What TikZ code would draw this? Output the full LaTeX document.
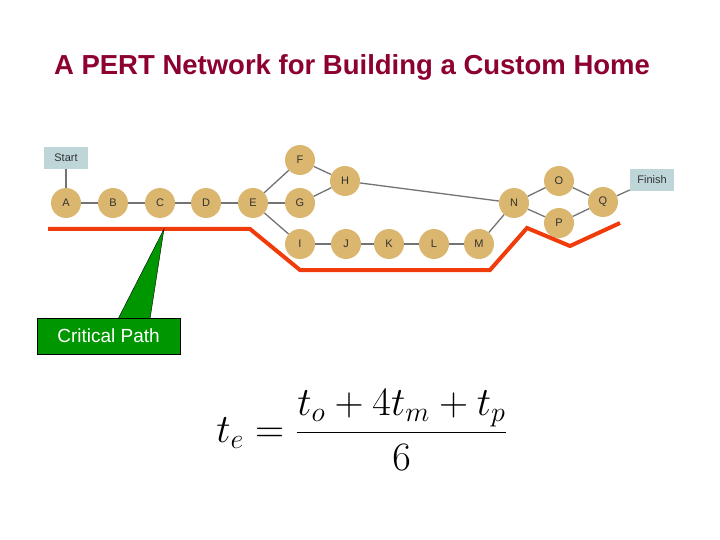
\documentclass[tikz,border=0pt]{standalone}
\usepackage{fontspec}
\setmainfont{Liberation Sans}
\begin{document}
\begin{tikzpicture}[x=1pt,y=-1pt,
 act/.style={circle,fill={rgb,255:red,218;green,182;blue,110},minimum size=30pt,inner sep=0pt,font=\fontsize{11}{12}\selectfont,text=black!80},
 term/.style={fill={rgb,255:red,190;green,214;blue,216},minimum width=44pt,minimum height=22pt,inner sep=1pt,font=\fontsize{11}{12}\selectfont,text=black!80},
 ln/.style={draw=black!55,line width=1.3pt}]
\useasboundingbox (0,0) rectangle (720,540);
\node[font=\bfseries\fontsize{27.5}{30}\selectfont,text={rgb,255:red,140;green,0;blue,50}] (title) at (352,67) {A PERT Network for Building a Custom Home};
\foreach \n/\x/\y in {A/66/203,B/113/203,C/160/203,D/206/203,E/253/203,F/300/160,G/300/203,H/345/181,I/300/244,J/346/244,K/389/244,L/434/244,M/479/244,N/514/203,O/559/181,P/559/223,Q/603/202}
  \node[act] (\n) at (\x,\y) {\n};
\node[term] (start) at (66,158) {Start};
\node[term] (finish) at (652,180) {Finish};
\foreach \a/\b in {start/A,A/B,B/C,C/D,D/E,E/F,E/G,E/I,F/H,G/H,H/N,I/J,J/K,K/L,L/M,M/N,N/O,N/P,O/Q,P/Q,Q/finish}
  \draw[ln] (\a) -- (\b);
\draw[line width=4pt,draw={rgb,255:red,240;green,60;blue,10}] (48,229) -- (250,229) -- (300,270) -- (490,270) -- (527,228) -- (570,246) -- (620,223);
\coordinate (tip) at (164,229);
\draw[fill={rgb,255:red,0;green,150;blue,0},draw=black,line width=0.4pt] (tip) -- (118,319) -- (150,319) -- cycle;
\node[draw=black,fill={rgb,255:red,0;green,150;blue,0},text=white,minimum width=143pt,minimum height=36pt,inner sep=0pt,font=\fontsize{19}{21}\selectfont] (cp) at (108.5,336) {Critical Path};
\node[scale=1.62] (formula) at (362,430) {\fontsize{24}{30}\selectfont $t_e = \displaystyle\frac{t_o + 4t_m + t_p}{6}$};
\end{tikzpicture}
\end{document}
